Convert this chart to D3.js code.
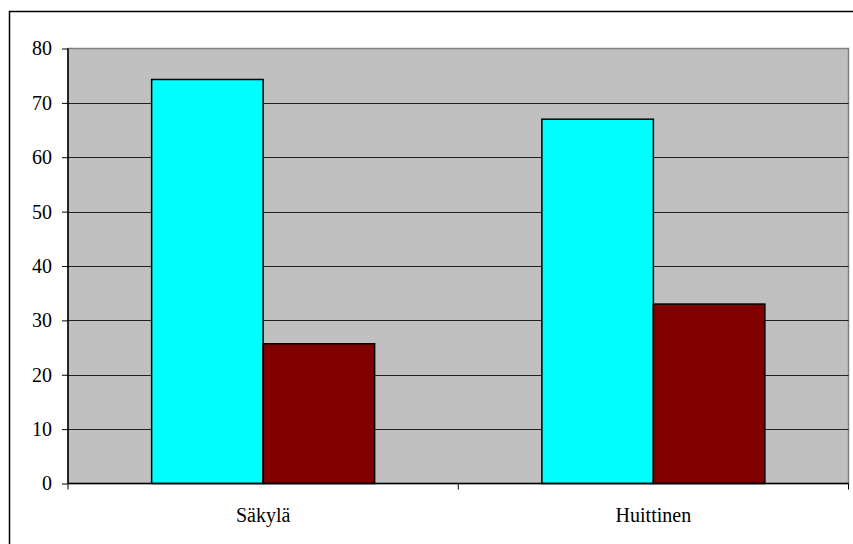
<!DOCTYPE html>
<html><head><meta charset="utf-8">
<script src="https://cdn.jsdelivr.net/npm/d3@7"></script>
<style>body{margin:0;background:#fff;} svg{display:block;} text{font-family:"Liberation Serif","Times New Roman",serif;}</style>
</head><body>
<svg id="c" width="853" height="544"></svg>
<script>
const categories = ["Säkylä", "Huittinen"];
const series1 = [74.3, 67.0];
const series2 = [25.7, 33.0];
const yTicks = [0, 10, 20, 30, 40, 50, 60, 70, 80];
const colors = ["#00FFFF", "#800000"];

const svg = d3.select("#c");
const L = 68, R = 848.5, T = 48.5, B = 483.5;
const FONT = '"Liberation Serif", "Times New Roman", serif';

// outer chart border (extends beyond viewport on right/bottom)
svg.append("rect").attr("x", 9.5).attr("y", 11.5).attr("width", 900).attr("height", 600)
  .attr("fill", "#fff").attr("stroke", "#000").attr("stroke-width", 1.5);

const x = d3.scaleBand().domain(categories).range([L, R]);
const y = d3.scaleLinear().domain([0, 80]).range([B, T]);

// plot background
svg.append("rect").attr("x", L).attr("y", T).attr("width", R - L).attr("height", B - T)
  .attr("fill", "#C0C0C0").attr("stroke", "#808080").attr("stroke-width", 1.5);

// gridlines
svg.append("g").selectAll("line").data(yTicks.filter(d => d > 0 && d < 80)).join("line")
  .attr("x1", L).attr("x2", R).attr("y1", d => Math.round(y(d)) + 0.5).attr("y2", d => Math.round(y(d)) + 0.5)
  .attr("stroke", "#222").attr("stroke-width", 1);

// bars: gap width 150% -> bar width = band / 3.5
const bw = x.bandwidth() / 3.5;
const inner = d3.scaleBand().domain([0, 1]).range([0, 2 * bw]);
const g = svg.append("g");
categories.forEach((c, i) => {
  const x0 = x(c) + 0.75 * bw;
  [series1[i], series2[i]].forEach((v, s) => {
    g.append("rect")
      .attr("x", x0 + inner(s)).attr("y", y(v))
      .attr("width", inner.bandwidth()).attr("height", B - y(v))
      .attr("fill", colors[s]).attr("stroke", "#000").attr("stroke-width", 1.5);
  });
});

// y axis
const yAxis = d3.axisLeft(y).tickValues(yTicks).tickSize(6).tickPadding(10).tickFormat(d3.format("d"));
const ya = svg.append("g").attr("transform", `translate(${L},0)`).call(yAxis);
ya.attr("font-family", null).attr("font-size", null);
ya.select(".domain").attr("stroke", "#000").attr("stroke-width", 1.5).attr("d", `M0,${T}V${B}`);
ya.selectAll(".tick line").attr("stroke", "#000");
ya.selectAll(".tick text").style("font-family", FONT).style("font-size", "20px").attr("fill", "#000");

// x axis
const xa = svg.append("g").attr("transform", `translate(0,${B})`);
xa.append("line").attr("x1", L).attr("x2", R).attr("y1", 0).attr("y2", 0).attr("stroke", "#000").attr("stroke-width", 1.5);
const bounds = [L, ...categories.map(c => x(c) + x.bandwidth())];
xa.selectAll("line.tk").data(bounds).join("line").attr("class", "tk")
  .attr("x1", d => d).attr("x2", d => d).attr("y1", 0).attr("y2", 6).attr("stroke", "#000");
xa.selectAll("text").data(categories).join("text")
  .attr("x", d => x(d) + x.bandwidth() / 2).attr("y", 38)
  .attr("text-anchor", "middle").style("font-family", FONT)
  .style("font-size", "20px").attr("fill", "#000").text(d => d);
</script>
</body></html>
